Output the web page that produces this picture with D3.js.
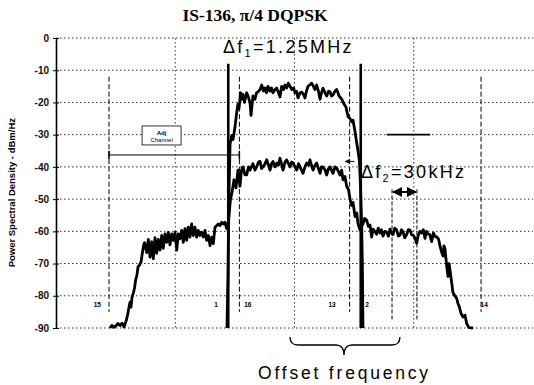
<!DOCTYPE html>
<html>
<head>
<meta charset="utf-8">
<title>IS-136 pi/4 DQPSK spectrum</title>
<script src="https://d3js.org/d3.v7.min.js"></script>
<style>
 body { margin: 0; background: #fff; }
 svg { display: block; }
</style>
</head>
<body>
<div id="chart"></div>
<script>
// offset frequency in MHz, power spectral density in dBm/Hz
var yTicks = [0, -10, -20, -30, -40, -50, -60, -70, -80, -90];
var yTickLabels = ["0", "-10", "-20", "-30", "-40", "-50", "-60", "-70", "-80", "-90"];
var gridFreqs = [-1.125, 0, 1.125];
var channelEdges = [-0.625, 0.625];
var dashedMarkers = [-1.75, -0.52, 0.52, 1.76];
var windowEdges = [0.92, 1.155];
var markerLabels = ["15", "1", "16", "13", "2", "14"];
var markerLabelFreqs = [-1.86, -0.74, -0.44, 0.354, 0.684, 1.79];

// wide trace: adjacent channels down at about -60
var lowerTrace = [
  [-1.741,-90],[-1.722,-89.2],[-1.703,-89.8],[-1.684,-89.3],[-1.665,-88.6],[-1.646,-89.2],[-1.627,-88.5],
  [-1.608,-89.7],[-1.590,-88],[-1.575,-86],[-1.564,-84],[-1.552,-82],[-1.542,-83.5],[-1.533,-80.5],
  [-1.519,-79],[-1.509,-77.5],[-1.498,-75],[-1.486,-73.5],[-1.476,-71],[-1.462,-70.5],[-1.448,-69.5],
  [-1.434,-66.5],[-1.425,-64.5],[-1.415,-63.5],[-1.394,-66.6],[-1.379,-62.5],[-1.363,-68],[-1.347,-63.2],
  [-1.332,-68.5],[-1.316,-62],[-1.300,-66.8],[-1.285,-62.5],[-1.269,-65.8],[-1.253,-61.3],[-1.238,-65.3],
  [-1.222,-60.8],[-1.206,-63.4],[-1.191,-60.3],[-1.175,-64.2],[-1.159,-60.8],[-1.143,-62.8],[-1.127,-60.3],
  [-1.111,-65.8],[-1.096,-60.8],[-1.080,-62.3],[-1.064,-59.7],[-1.049,-63.4],[-1.033,-59.2],[-1.017,-62.8],
  [-1.002,-58.7],[-0.986,-61.8],[-0.970,-57.7],[-0.955,-61.3],[-0.939,-58.7],[-0.923,-61.8],[-0.908,-59.7],
  [-0.892,-61.3],[-0.876,-60.3],[-0.860,-61.8],[-0.844,-59.7],[-0.829,-62.8],[-0.813,-61.3],[-0.797,-64.4],
  [-0.781,-61.8],[-0.766,-63.8],[-0.750,-58.7],[-0.734,-58.2],[-0.719,-57.7],[-0.703,-58.2],[-0.687,-57.2],
  [-0.672,-57.7],[-0.656,-57.2],[-0.640,-59.2],[-0.623,-57],[-0.604,-50],[-0.590,-48],[-0.571,-44],
  [-0.552,-46.5],[-0.533,-41],[-0.514,-46],[-0.500,-41],[-0.486,-40],[-0.467,-42.5],[-0.451,-42.5],
  [-0.434,-40],[-0.420,-41],[-0.392,-39],[-0.373,-41],[-0.357,-40],[-0.340,-38.5],[-0.325,-38.3],
  [-0.311,-40.5],[-0.297,-40],[-0.278,-39],[-0.262,-37.8],[-0.245,-39.5],[-0.231,-41],[-0.217,-39],
  [-0.203,-38.3],[-0.184,-40],[-0.168,-38.8],[-0.151,-39.5],[-0.137,-37.3],[-0.123,-39],[-0.108,-41],
  [-0.090,-38.5],[-0.074,-37.8],[-0.057,-39],[-0.042,-40],[-0.028,-38.5],[-0.014,-38.8],[0.005,-40],
  [0.021,-41],[0.038,-39],[0.052,-40],[0.066,-41],[0.080,-42],[0.099,-40],[0.115,-38.8],[0.132,-39.5],
  [0.146,-37.8],[0.160,-39.5],[0.175,-41],[0.193,-39.5],[0.209,-38.8],[0.226,-40.5],[0.241,-42],
  [0.255,-40],[0.269,-40],[0.288,-41],[0.304,-42.5],[0.321,-40.5],[0.335,-40],[0.349,-41],[0.363,-42],
  [0.382,-40],[0.398,-40.4],[0.415,-41.5],[0.429,-42.5],[0.445,-41],[0.458,-44],[0.476,-43],[0.492,-46],
  [0.509,-47],[0.524,-50],[0.540,-52],[0.552,-51],[0.571,-55.4],[0.587,-54.3],[0.599,-57.6],[0.618,-59.6],
  [0.632,-58.5],[0.646,-57.7],[0.662,-56],[0.681,-56.6],[0.697,-58.5],[0.712,-58],[0.728,-61.8],
  [0.741,-59.3],[0.758,-60],[0.775,-60.9],[0.790,-59],[0.807,-60.5],[0.820,-59.5],[0.835,-61.5],
  [0.852,-60],[0.870,-60.3],[0.886,-61.5],[0.901,-59.3],[0.915,-60.5],[0.929,-61],[0.946,-59],
  [0.964,-59.6],[0.980,-61.5],[0.995,-61.2],[1.010,-59.5],[1.024,-60.2],[1.040,-62],[1.058,-61],
  [1.074,-59.5],[1.090,-59.6],[1.104,-61],[1.118,-61.2],[1.136,-62],[1.153,-63.7],[1.165,-61.5],
  [1.183,-60],[1.200,-60.5],[1.215,-59.5],[1.231,-62.2],[1.245,-60],[1.259,-60.8],[1.276,-61],
  [1.294,-63.2],[1.310,-60.5],[1.325,-61.5],[1.344,-61.8],[1.360,-62.5],[1.373,-64.6],[1.389,-66.6],
  [1.401,-67.7],[1.410,-64.5],[1.420,-65.5],[1.436,-70.8],[1.448,-74],[1.458,-70],[1.467,-72],
  [1.483,-76],[1.495,-79],[1.512,-80],[1.530,-80.8],[1.542,-82.4],[1.556,-83.5],[1.571,-85.5],
  [1.590,-86.6],[1.608,-86],[1.625,-88.7],[1.646,-89.9],[1.684,-90]
];

// main channel trace, about 20 dB higher
var upperTrace = [
  [-0.637,-90],[-0.627,-72],[-0.618,-48],[-0.608,-33],[-0.592,-30.2],[-0.580,-31.5],[-0.561,-27.5],
  [-0.545,-23],[-0.533,-20.5],[-0.524,-22],[-0.508,-17],[-0.495,-19],[-0.486,-17.5],[-0.472,-20],
  [-0.451,-17],[-0.434,-18.5],[-0.420,-20],[-0.410,-24],[-0.401,-21],[-0.392,-18],[-0.373,-19],
  [-0.358,-17],[-0.344,-16.7],[-0.325,-16],[-0.309,-14.6],[-0.292,-16.5],[-0.278,-15.5],[-0.264,-17],
  [-0.250,-15],[-0.231,-16.5],[-0.217,-15.5],[-0.203,-17],[-0.184,-16],[-0.168,-15.5],[-0.151,-17],
  [-0.137,-18.3],[-0.121,-15],[-0.104,-16],[-0.090,-14.6],[-0.074,-15.5],[-0.058,-14],[-0.042,-15],
  [-0.026,-16],[-0.009,-15.5],[0.005,-17],[0.019,-16.5],[0.033,-18.6],[0.052,-17],[0.068,-16.8],
  [0.085,-17.5],[0.099,-18.6],[0.113,-16.5],[0.127,-15],[0.146,-14.5],[0.162,-14],[0.179,-15],
  [0.193,-16],[0.209,-14.6],[0.226,-16.5],[0.241,-19],[0.255,-17],[0.269,-15.6],[0.288,-17],
  [0.304,-18],[0.321,-16.5],[0.335,-16.7],[0.349,-18],[0.363,-17.7],[0.382,-16.5],[0.398,-16],
  [0.410,-17],[0.420,-18],[0.434,-18.5],[0.445,-19],[0.467,-20.5],[0.486,-21.5],[0.505,-24.4],
  [0.524,-25],[0.540,-26],[0.552,-25.5],[0.571,-29],[0.587,-32.6],[0.599,-35],[0.612,-38],
  [0.623,-46],[0.632,-56],[0.640,-70],[0.646,-90]
];

var width = 534, height = 385;
var svg = d3.select("#chart").append("svg")
  .attr("width", width).attr("height", height)
  .style("font-family", "'Liberation Sans', Arial, sans-serif");

var x = d3.scaleLinear().domain([-2.25, 2.25]).range([56, 533]);
var y = d3.scaleLinear().domain([0, -90]).range([38, 328]);

svg.append("defs").selectAll("marker")
  .data(["head"])
  .enter().append("marker")
  .attr("id", "head")
  .attr("viewBox", "0 0 10 10")
  .attr("refX", 9).attr("refY", 5)
  .attr("markerWidth", 5).attr("markerHeight", 5)
  .attr("orient", "auto-start-reverse")
  .append("path").attr("d", "M0,0L10,5L0,10Z").attr("fill", "#000");

// dotted grid
svg.append("g").selectAll("line")
  .data(yTicks)
  .enter().append("line")
  .attr("x1", x(-2.25)).attr("x2", x(2.25))
  .attr("y1", d => y(d)).attr("y2", d => y(d))
  .attr("stroke", "#333").attr("stroke-width", 1)
  .attr("stroke-dasharray", "1.5,2.5");

svg.append("g").selectAll("line")
  .data(gridFreqs)
  .enter().append("line")
  .attr("x1", d => x(d)).attr("x2", d => x(d))
  .attr("y1", y(0)).attr("y2", y(-90))
  .attr("stroke", "#333").attr("stroke-width", 1)
  .attr("stroke-dasharray", "1.5,2.5");

// axis
var axis = d3.axisLeft(y)
  .tickValues(yTicks)
  .tickFormat((d, i) => yTickLabels[i])
  .tickSize(3).tickSizeOuter(0).tickPadding(4);
var ax = svg.append("g").attr("transform", "translate(" + x(-2.25) + ",0)").call(axis);
ax.select(".domain").attr("stroke", "#000").attr("stroke-width", 1.6);
ax.selectAll(".tick line").attr("x2", -3).attr("x1", 3).attr("stroke", "#000");
ax.selectAll(".tick text")
  .style("font-family", "'Liberation Sans', Arial, sans-serif")
  .style("font-size", "10px").style("font-weight", "bold").attr("fill", "#111");

svg.append("text")
  .attr("transform", "translate(15," + y(-48) + ") rotate(-90)")
  .attr("text-anchor", "middle")
  .style("font-size", "9.5px").style("font-weight", "bold")
  .text("Power Spectral Density - dBm/Hz");

// marker lines
svg.append("g").selectAll("line")
  .data(dashedMarkers)
  .enter().append("line")
  .attr("x1", d => x(d)).attr("x2", d => x(d))
  .attr("y1", y(-12)).attr("y2", y(-85))
  .attr("stroke", "#000").attr("stroke-width", 1)
  .attr("stroke-dasharray", "5,2.5");

svg.append("g").selectAll("line")
  .data(windowEdges)
  .enter().append("line")
  .attr("x1", d => x(d)).attr("x2", d => x(d))
  .attr("y1", y(-47)).attr("y2", y(-87.5))
  .attr("stroke", "#000").attr("stroke-width", 1)
  .attr("stroke-dasharray", "4,2");

svg.append("line")
  .attr("x1", x(windowEdges[0]) + 1).attr("x2", x(windowEdges[1]) - 1)
  .attr("y1", y(-47.8)).attr("y2", y(-47.8))
  .attr("stroke", "#000").attr("stroke-width", 2)
  .attr("marker-start", "url(#head)").attr("marker-end", "url(#head)");

// adjacent channel bracket
svg.append("line")
  .attr("x1", x(dashedMarkers[0])).attr("x2", x(dashedMarkers[1]))
  .attr("y1", y(-36.3)).attr("y2", y(-36.3))
  .attr("stroke", "#000").attr("stroke-width", 1);
svg.append("g").selectAll("line")
  .data([dashedMarkers[0], dashedMarkers[1]])
  .enter().append("line")
  .attr("x1", d => x(d)).attr("x2", d => x(d))
  .attr("y1", y(-35)).attr("y2", y(-37.6))
  .attr("stroke", "#000").attr("stroke-width", 1.5);

svg.append("rect")
  .attr("x", x(-1.438)).attr("y", y(-27.3))
  .attr("width", x(-1.07) - x(-1.438)).attr("height", y(-33.2) - y(-27.3))
  .attr("fill", "#fff").attr("stroke", "#000").attr("stroke-width", 0.8);
svg.append("text")
  .attr("x", x(-1.254)).attr("y", y(-30))
  .attr("text-anchor", "middle").style("font-size", "6px").style("font-weight", "bold")
  .text("Adj");
svg.append("text")
  .attr("x", x(-1.254)).attr("y", y(-32.4))
  .attr("text-anchor", "middle").style("font-size", "6px")
  .text("Channel");

svg.append("line")
  .attr("x1", x(0.87)).attr("x2", x(1.28))
  .attr("y1", y(-30)).attr("y2", y(-30))
  .attr("stroke", "#000").attr("stroke-width", 1.8);

svg.append("line")
  .attr("x1", x(0.565)).attr("x2", x(0.48))
  .attr("y1", y(-38.3)).attr("y2", y(-38.3))
  .attr("stroke", "#000").attr("stroke-width", 1)
  .attr("marker-end", "url(#head)");

svg.append("g").selectAll("text")
  .data(markerLabels)
  .enter().append("text")
  .attr("x", (d, i) => x(markerLabelFreqs[i]))
  .attr("y", y(-83.5))
  .attr("text-anchor", "middle")
  .style("font-size", "6.5px").style("font-weight", "bold")
  .text(d => d);

// spectra
var line = d3.line().x(d => x(d[0])).y(d => y(d[1]));
svg.append("path").datum(lowerTrace)
  .attr("d", line).attr("fill", "none")
  .attr("stroke", "#000").attr("stroke-width", 2.8).attr("stroke-linejoin", "round");
svg.append("path").datum(upperTrace)
  .attr("d", line).attr("fill", "none")
  .attr("stroke", "#000").attr("stroke-width", 2.8).attr("stroke-linejoin", "round");

// channel edges
svg.append("g").selectAll("line")
  .data(channelEdges)
  .enter().append("line")
  .attr("x1", d => x(d)).attr("x2", d => x(d))
  .attr("y1", y(-8)).attr("y2", y(-90))
  .attr("stroke", "#000").attr("stroke-width", 2.6);

// titles and annotations
svg.append("text")
  .attr("x", 255).attr("y", 21)
  .attr("text-anchor", "middle")
  .style("font-family", "'Liberation Serif', 'Times New Roman', serif")
  .style("font-size", "17.5px").style("font-weight", "bold")
  .text("IS-136, \u03c0/4 DQPSK");

function deltaLabel(f, db, sub, rest) {
  var t = svg.append("text")
    .attr("x", x(f)).attr("y", y(db))
    .style("font-size", "18px").style("letter-spacing", "2.3px");
  t.append("tspan").text("\u0394f");
  t.append("tspan").attr("dy", 4).style("font-size", "11px").text(sub);
  t.append("tspan").attr("dy", -4).text(rest);
}
deltaLabel(-0.675, -4.6, "1", "=1.25MHz");
deltaLabel(0.627, -43.5, "2", "=30kHz");

svg.append("text")
  .attr("x", x(-0.344)).attr("y", 379)
  .style("font-size", "17.5px").style("letter-spacing", "2.8px")
  .text("Offset frequency");

// brace under the offset
var braceL = x(-0.042), braceR = x(0.995), braceM = x(0.467);
svg.append("path")
  .attr("d", "M" + braceL + ",337 Q" + braceL + ",345 " + (braceL + 8) + ",345 L" + (braceM - 8) + ",345 Q" +
    braceM + ",345 " + braceM + ",355 Q" + braceM + ",345 " + (braceM + 8) + ",345 L" + (braceR - 8) + ",345 Q" +
    braceR + ",345 " + braceR + ",337")
  .attr("fill", "none").attr("stroke", "#000").attr("stroke-width", 1.3);
</script>
</body>
</html>
